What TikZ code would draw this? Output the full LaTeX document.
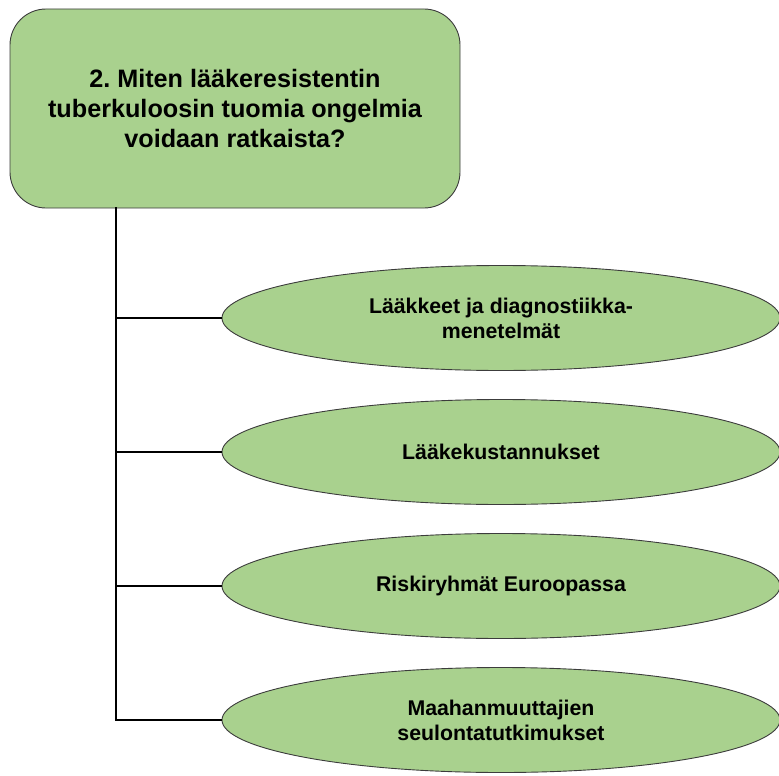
\documentclass[tikz,border=0pt]{standalone}
\usepackage{fontspec}
\setmainfont{Liberation Sans}
\usetikzlibrary{shapes.geometric}
\definecolor{boxgreen}{RGB}{169,209,142}
\definecolor{edgegray}{RGB}{60,60,60}
\frenchspacing

\begin{document}
\begin{tikzpicture}[
    x=1pt, y=-1pt,
    question/.style={draw=edgegray, line width=0.9pt, fill=boxgreen, rounded corners=36pt,
        minimum width=450pt, minimum height=199pt, align=center,
        font=\fontsize{25.2}{30}\selectfont\bfseries},
    topic/.style={ellipse, draw=edgegray, line width=0.9pt, fill=boxgreen, inner sep=0pt,
        minimum width=558pt, minimum height=105pt, align=center,
        font=\fontsize{21.3}{25}\selectfont\bfseries},
    branch/.style={line width=1.6pt, black}
]
\useasboundingbox (0,0) rectangle (779,776);

% Question box
\node[question] (q) at (235,108.5) {2. Miten lääkeresistentin\\tuberkuloosin tuomia ongelmia\\voidaan ratkaista?};
\coordinate (stem) at (116,207);

% Topics
\node[topic] (t1) at (501,318) {Lääkkeet ja diagnostiikka-\\menetelmät};
\node[topic] (t2) at (501,452) {Lääkekustannukset};
\node[topic] (t3) at (501,586) {Riskiryhmät Euroopassa};
\node[topic] (t4) at (501,720) {Maahanmuuttajien\\seulontatutkimukset};

% Branches
\draw[branch] (stem) |- (t4.west);
\foreach \t in {t1,t2,t3}
    \draw[branch] (stem |- \t.west) -- (\t.west);

\end{tikzpicture}
\end{document}
